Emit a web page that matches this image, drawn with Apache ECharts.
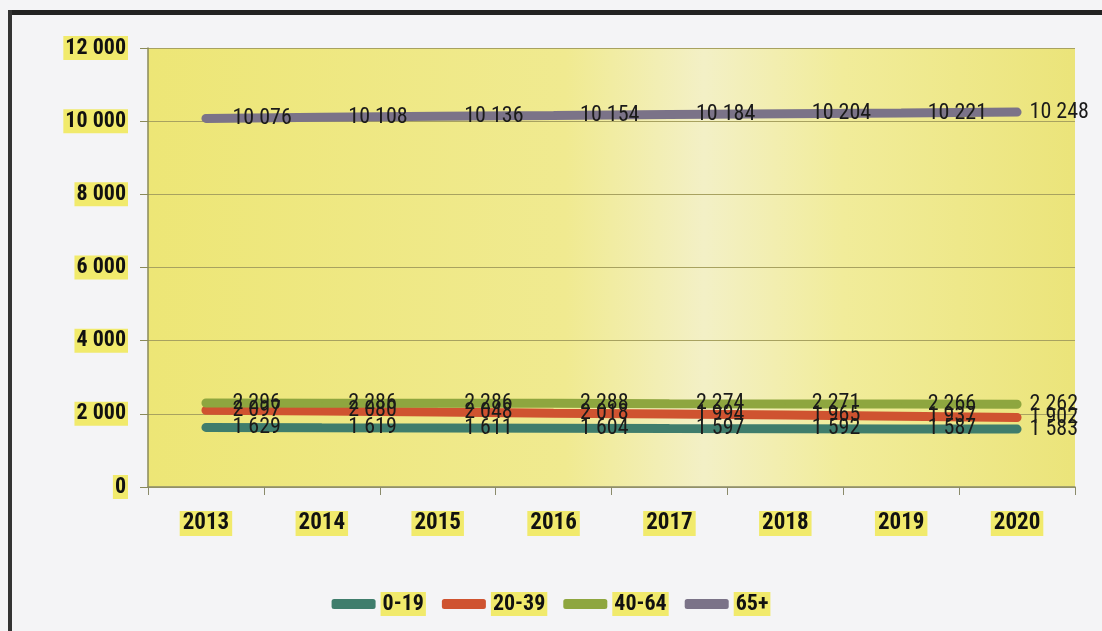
<!DOCTYPE html>
<html><head><meta charset="utf-8">
<script src="https://cdn.jsdelivr.net/npm/echarts@6/dist/echarts.min.js"></script>
<style>html,body{margin:0;padding:0;background:#f4f4f6;}#c{width:1102px;height:631px;}</style>
</head><body><div id="c"></div>
<script>
const years = ['2013','2014','2015','2016','2017','2018','2019','2020'];
const age0_19 = [1629,1619,1611,1604,1597,1592,1587,1583];
const age20_39 = [2097,2080,2048,2018,1994,1965,1937,1902];
const age40_64 = [2296,2286,2286,2288,2274,2271,2266,2262];
const age65 = [10076,10108,10136,10154,10184,10204,10221,10248];
const yTicks = {min:0, max:12000, interval:2000};

const fmt = v => String(v).replace(/\B(?=(\d{3})+(?!\d))/g, ' ');
const FONT = '"Liberation Sans Narrow","Arial Narrow","Roboto Condensed","Liberation Sans",sans-serif';
const chart = echarts.init(document.getElementById('c'));

function mk(name, arr, color){
  return {
    name, type:'line', data: arr.map((v,i)=> i===arr.length-1 ? {value:v, label:{distance:12}} : v),
    symbol:'circle', symbolSize:1, showSymbol:true,
    lineStyle:{width:9, color, cap:'round'}, itemStyle:{color},
    label:{show:true, position:'right', distance:26, color:'#1a1a1a', fontFamily:FONT, fontSize:22,
      formatter:p=>fmt(p.value)},
    labelLayout:{hideOverlap:false},
    z: 2
  };
}
chart.setOption({
  backgroundColor:'#f4f4f6',
  animation:false,
  grid:{left:148, right:27, top:48, bottom:144, show:true, borderWidth:0,
    backgroundColor:{type:'linear',x:0,y:0,x2:1,y2:0,colorStops:[
      {offset:0,color:'#ede676'},{offset:0.45,color:'#f0ea90'},{offset:0.6,color:'#f3f0c6'},
      {offset:0.75,color:'#f1ec9a'},{offset:1,color:'#ebe47a'}]}},
  xAxis:{type:'category', data:years, boundaryGap:true,
    axisLine:{lineStyle:{color:'#8a8a6a', width:1.5}},
    axisTick:{show:true, length:8, lineStyle:{color:'#8a8a6a'}},
    axisLabel:{color:'#111', fontFamily:FONT, fontWeight:'bold', fontSize:23, margin:24,
      backgroundColor:'#f1ea6c', padding:[1,3]}},
  yAxis:{type:'value', min:yTicks.min, max:yTicks.max, interval:yTicks.interval,
    axisLine:{show:true, lineStyle:{color:'#8a8a5a', width:1.5}},
    axisTick:{show:true, length:8, lineStyle:{color:'#8a8a5a'}},
    splitLine:{lineStyle:{color:'#a8a260', width:1.2}},
    axisLabel:{color:'#111', fontFamily:FONT, fontWeight:'bold', fontSize:22, margin:20,
      formatter:v=>fmt(v), backgroundColor:'#f1ea6c', padding:[1,2]}},
  legend:{bottom:10, left:'center', itemWidth:44, itemHeight:10, itemGap:16,
    icon:'roundRect',
    textStyle:{color:'#111', fontFamily:FONT, fontWeight:'bold', fontSize:22, backgroundColor:'#f1ea6c', padding:[1,2]},
    data:['0-19','20-39','40-64','65+']},
  series:[
    mk('0-19', age0_19, '#3f7d6c'),
    mk('20-39', age20_39, '#cf5330'),
    mk('40-64', age40_64, '#8ea63f'),
    mk('65+', age65, '#7b7388')
  ],
  graphic:[
    {type:'rect', shape:{x:8,y:10,width:1094,height:5}, style:{fill:'#222'}},
    {type:'rect', shape:{x:8,y:10,width:4,height:621}, style:{fill:'#333'}}
  ]
});
</script></body></html>
